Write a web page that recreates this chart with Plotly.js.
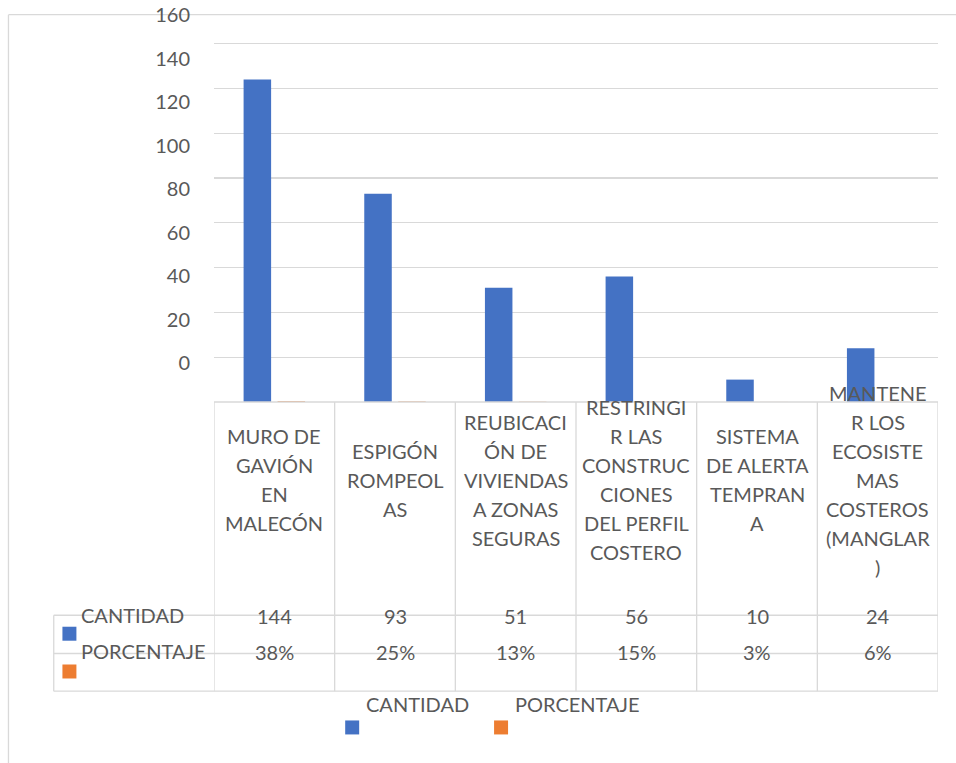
<!DOCTYPE html>
<html>
<head>
<meta charset="utf-8">
<script src="https://cdn.plot.ly/plotly-3.0.1.min.js"></script>
<style>html,body{margin:0;padding:0;background:#fff;}#chart{width:956px;height:763px;}</style>
</head>
<body>
<div id="chart"></div>
<script>
// ---- data ----
const categories = ["MURO DE GAVIÓN EN MALECÓN", "ESPIGÓN ROMPEOLAS", "REUBICACIÓN DE VIVIENDAS A ZONAS SEGURAS", "RESTRINGIR LAS CONSTRUCCIONES DEL PERFIL COSTERO", "SISTEMA DE ALERTA TEMPRANA", "MANTENER LOS ECOSISTEMAS COSTEROS (MANGLAR)"];
const categoryLabels = ["MURO DE<br>GAVIÓN<br>EN<br>MALECÓN", "ESPIGÓN<br>ROMPEOL<br>AS", "REUBICACI<br>ÓN DE<br>VIVIENDAS<br>A ZONAS<br>SEGURAS", "RESTRINGI<br>R LAS<br>CONSTRUC<br>CIONES<br>DEL PERFIL<br>COSTERO", "SISTEMA<br>DE ALERTA<br>TEMPRAN<br>A", "MANTENE<br>R LOS<br>ECOSISTE<br>MAS<br>COSTEROS<br>(MANGLAR<br>)"];
const cantidad = [144, 93, 51, 56, 10, 24];
const porcentaje = [0.38, 0.25, 0.13, 0.15, 0.03, 0.06];
const seriesNames = ["CANTIDAD", "PORCENTAJE"];
const yTicks = [0, 20, 40, 60, 80, 100, 120, 140, 160];

// ---- layout helpers (pixel geometry) ----
const W = 956, H = 763;
const L = 213.7, R = 938.3, T = 15, B = 402.3;
const px = p => (p - L) / (R - L);
const py = p => (B - p) / (B - T);
const unit = (B - 43.7) / 160;           // pixels per unit of value
const yMax = (B - T) / unit;
const labelUnit = (363.5 - 15) / 160;    // label axis scale
const labelMin = -(B - 363.5) / labelUnit;

const blue = "#4472C4", orange = "#ED7D31", grid = "#D9D9D9", txt = "#595959";
const FONT = "Lato, 'Open Sans', sans-serif";
const FS = 20;

const traces = [
  {type: "bar", name: seriesNames[0], x: categories, y: cantidad, marker: {color: blue}, hoverinfo: "skip"},
  {type: "bar", name: seriesNames[1], x: categories, y: porcentaje, marker: {color: orange}, hoverinfo: "skip"},
  // carrier for the label axis (no visible marks)
  {type: "scatter", mode: "markers", x: [categories[0]], y: [0], yaxis: "y2", marker: {opacity: 0}, hoverinfo: "skip", showlegend: false}
];

const shapes = [];
const annotations = [];
const line = (x0, y0, x1, y1, xref, layer) => shapes.push({type: "line", xref: xref || "paper", yref: "paper", x0, y0, x1, y1, line: {color: grid, width: 1.3}, layer: layer || "below"});

// chart frame (left & top)
line(px(8), py(14.7), px(8), py(H + 5));
line(px(8), py(14.7), px(W + 5), py(14.7));

// data table grid
line(px(L), py(B), px(R), py(B), "paper", "above");
for (let i = 0; i <= categories.length; i++) line(i - 0.5, py(B), i - 0.5, py(691.7), "x");
line(px(53.3), py(615.7), px(53.3), py(691.7));
[615.7, 654, 691.7].forEach(y => line(px(53.3), py(y), px(R), py(y)));

const tf = {family: FONT, size: FS, color: txt};
// category labels (wrapped lines, 29px line pitch, centred in the cell)
categoryLabels.forEach((c, i) => {
  const parts = c.split("<br>");
  parts.forEach((p, k) => annotations.push({xref: "x", yref: "paper", x: i, y: py(480 + (k - (parts.length - 1) / 2) * 29), text: p, showarrow: false, xanchor: "center", yanchor: "middle", font: tf}));
});
// table values
cantidad.forEach((v, i) => annotations.push({xref: "x", yref: "paper", x: i, y: py(616.5), text: String(v), showarrow: false, xanchor: "center", yanchor: "middle", font: tf}));
porcentaje.forEach((v, i) => annotations.push({xref: "x", yref: "paper", x: i, y: py(652.5), text: Math.round(v * 100) + "%", showarrow: false, xanchor: "center", yanchor: "middle", font: tf}));
// row headers + keys
[[seriesNames[0], blue, 615.7, 634.2], [seriesNames[1], orange, 651.7, 672]].forEach(([name, col, ty, ky]) => {
  annotations.push({xref: "paper", yref: "paper", x: px(79), y: py(ty), text: name, showarrow: false, xanchor: "left", yanchor: "middle", font: tf});
  shapes.push({type: "rect", xref: "paper", yref: "paper", x0: px(62), x1: px(76), y0: py(ky - 7), y1: py(ky + 7), fillcolor: col, line: {width: 0}});
});
// bottom legend
[[seriesNames[0], blue, 364, 345], [seriesNames[1], orange, 513, 494]].forEach(([name, col, tx, kx]) => {
  annotations.push({xref: "paper", yref: "paper", x: px(tx), y: py(705), text: name, showarrow: false, xanchor: "left", yanchor: "middle", font: tf});
  shapes.push({type: "rect", xref: "paper", yref: "paper", x0: px(kx), x1: px(kx + 14), y0: py(721), y1: py(735), fillcolor: col, line: {width: 0}});
});

const layout = {
  width: W, height: H,
  margin: {l: L, r: W - R, t: T, b: H - B, pad: 0},
  paper_bgcolor: "#fff", plot_bgcolor: "#fff",
  showlegend: false,
  barmode: "group", bargap: 0.437, bargroupgap: 0.19,
  xaxis: {type: "category", showticklabels: false, showgrid: false, zeroline: false, showline: false, ticks: "", range: [-0.5, categories.length - 0.5]},
  yaxis: {range: [0, yMax], tickvals: yTicks, showticklabels: false, showgrid: true, gridcolor: grid, gridwidth: 1.3, zeroline: false, showline: false, ticks: ""},
  yaxis2: {overlaying: "y", side: "left", anchor: "x", range: [labelMin, 160.05], tickvals: yTicks, ticktext: yTicks.map(String), showgrid: false, zeroline: false, showline: false, ticks: "", ticklabelstandoff: 23, tickfont: tf},
  shapes, annotations,
  font: {family: FONT, color: txt}
};

Plotly.newPlot("chart", traces, layout, {staticPlot: true, displayModeBar: false});
</script>
</body>
</html>
